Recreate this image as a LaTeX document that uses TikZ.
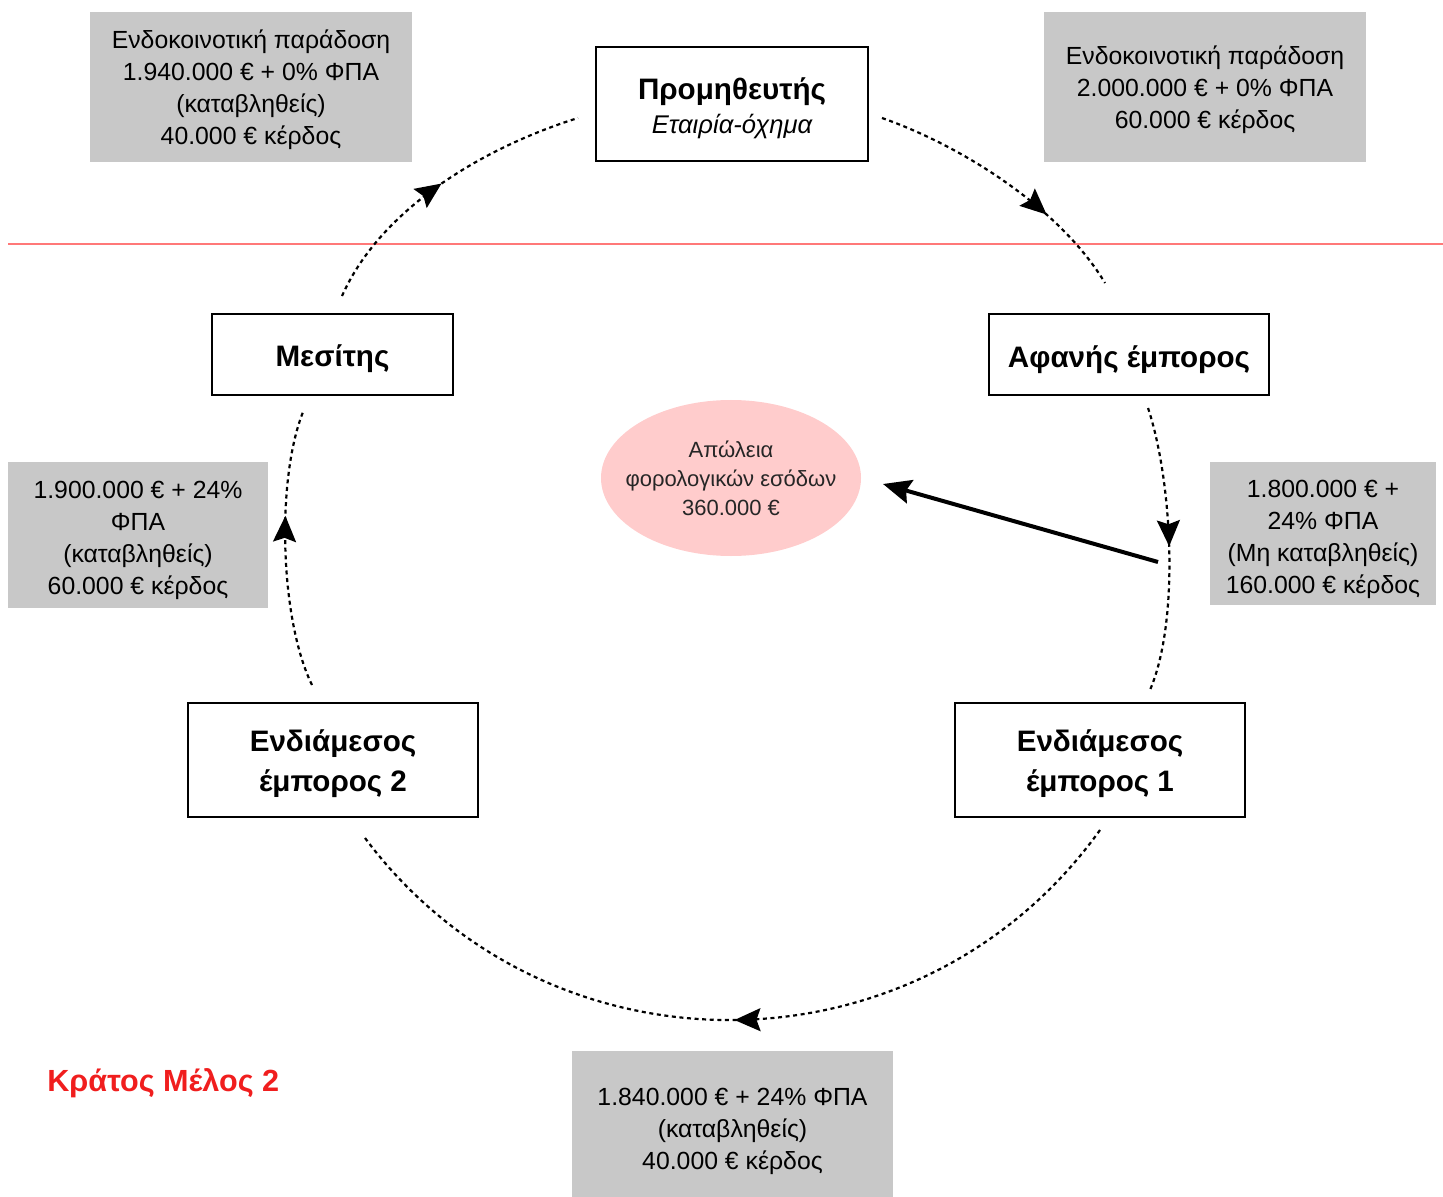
\documentclass[tikz,border=0pt]{standalone}
\usepackage{fontspec}
\setmainfont{Liberation Sans}
\usetikzlibrary{arrows.meta,decorations.markings,shapes.geometric}
\definecolor{boxgrey}{RGB}{200,200,200}
\definecolor{losspink}{RGB}{255,204,204}
\definecolor{statered}{RGB}{240,30,30}
\definecolor{borderline}{RGB}{255,120,120}
\begin{document}
\begin{tikzpicture}[x=0.5pt,y=-0.5pt,
  party/.style={draw=black, line width=1pt, fill=white, inner sep=0pt},
  partytext/.style={align=center, font=\fontsize{14.8}{20}\selectfont\bfseries, inner sep=0pt},
  infobox/.style={fill=boxgrey, inner sep=0pt},
  infotext/.style={align=center, font=\fontsize{12.4}{16}\selectfont, inner sep=0pt},
  flow/.style={line width=1.1pt, dash pattern=on 2pt off 1.8pt},
  midarrow/.style={postaction={decorate, decoration={markings,
    mark=at position #1 with {\arrow{Stealth[length=13pt,width=11.5pt,inset=2pt]}}}}},
]
\useasboundingbox (0,0) rectangle (1443,1197);

% border between member states
\draw[borderline, line width=1pt] (8,244) -- (1443,244);

% trading parties: frames
\node[party, minimum width=136pt, minimum height=57pt] (sup) at (732,104) {};
\node[party, minimum width=120.5pt, minimum height=40.5pt] (bro) at (332.5,354.5) {};
\node[party, minimum width=140pt, minimum height=40.5pt] (hid) at (1129,354.5) {};
\node[party, minimum width=145pt, minimum height=57pt] (int2) at (333,760) {};
\node[party, minimum width=145pt, minimum height=57pt] (int1) at (1100,760) {};

% trading parties: names
\node[partytext] (supT) at ([yshift=-2pt]sup.center)
  {Προμηθευτής\\[-3pt]{\fontsize{12.8}{16}\selectfont\mdseries\itshape Εταιρία-όχημα}};
\node[partytext] (broT) at ([yshift=-2pt]bro.center) {Μεσίτης};
\node[partytext] (hidT) at ([yshift=-2.5pt]hid.center) {Αφανής έμπορος};
\node[partytext] (int2T) at ([yshift=-2pt]int2.center) {Ενδιάμεσος\\έμπορος 2};
\node[partytext] (int1T) at ([yshift=-2pt]int1.center) {Ενδιάμεσος\\έμπορος 1};

% transaction details: boxes
\node[infobox, minimum width=161pt, minimum height=75pt] (g1) at (251,87) {};
\node[infobox, minimum width=161pt, minimum height=75pt] (g2) at (1205,87) {};
\node[infobox, minimum width=130pt, minimum height=73pt] (g3) at (138,535) {};
\node[infobox, minimum width=113pt, minimum height=71.5pt] (g4) at (1323,533.5) {};
\node[infobox, minimum width=160.5pt, minimum height=73pt] (g5) at (732.5,1124) {};

% transaction details: texts
\node[infotext] (g1T) at ([yshift=-1.5pt]g1.center)
  {Ενδοκοινοτική παράδοση\\1.940.000 € + 0\% ΦΠΑ\\(καταβληθείς)\\40.000 € κέρδος};
\node[infotext] (g2T) at ([yshift=-1.5pt]g2.center)
  {Ενδοκοινοτική παράδοση\\2.000.000 € + 0\% ΦΠΑ\\60.000 € κέρδος};
\node[infotext] (g3T) at ([yshift=-2.5pt]g3.center)
  {1.900.000 € + 24\%\\ΦΠΑ\\(καταβληθείς)\\60.000 € κέρδος};
\node[infotext] (g4T) at ([yshift=-3pt]g4.center)
  {1.800.000 € +\\24\% ΦΠΑ\\(Μη καταβληθείς)\\160.000 € κέρδος};
\node[infotext] (g5T) at ([yshift=-3.5pt]g5.center)
  {1.840.000 € + 24\% ΦΠΑ\\(καταβληθείς)\\40.000 € κέρδος};

% tax loss
\node[ellipse, fill=losspink, minimum width=130pt, minimum height=78pt, inner sep=0pt] (loss)
  at (731,478) {};
\node[align=center, font=\fontsize{11}{14.5}\selectfont, text=black!85, inner sep=0pt] (lossT)
  at (loss.center) {Απώλεια\\φορολογικών εσόδων\\360.000 €};

% member state label
\node[anchor=west, inner sep=0pt, font=\fontsize{15.3}{18}\selectfont\bfseries, text=statered] (state)
  at (47,1083) {Κράτος Μέλος 2};

% end points of the flow arcs
\coordinate (s1) at (882,118);  \coordinate (e1) at (1105,283);
\coordinate (s2) at (1148,408); \coordinate (e2) at (1150,690);
\coordinate (s3) at (1100,830); \coordinate (e3) at (365,838);
\coordinate (s4) at (312,685);  \coordinate (e4) at (303,412);
\coordinate (s5) at (342,296);  \coordinate (e5) at (578,118);
\coordinate (ls) at (1158,562); \coordinate (le) at (883,484);

% flow of goods around the carousel
\draw[flow, midarrow=0.68] (s1) .. controls (962,146) and (1060,208) .. (e1);
\draw[flow, midarrow=0.49] (s2) .. controls (1172,480) and (1180,620) .. (e2);
\draw[flow, midarrow=0.5]  (s3) .. controls (921,1080) and (549,1084) .. (e3);
\draw[flow, midarrow=0.62] (s4) .. controls (280,620) and (276,480) .. (e4);
\draw[flow, midarrow=0.5]  (s5) .. controls (382,206) and (488,146) .. (e5);

% missing trader causes the loss
\draw[line width=2pt, -{Stealth[length=14pt,width=12pt,inset=2pt]}] (ls) -- (le);
\end{tikzpicture}
\end{document}
